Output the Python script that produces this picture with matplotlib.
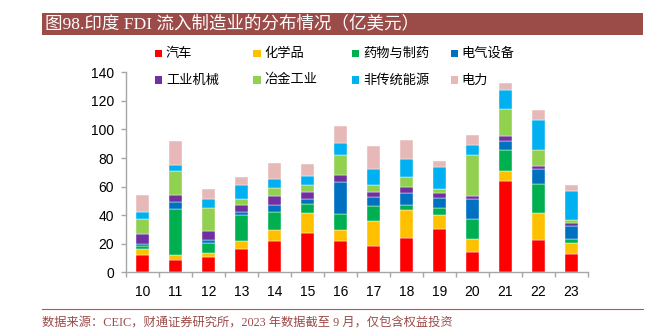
import numpy as np
import matplotlib.pyplot as plt
from matplotlib.patches import Rectangle

plt.rcParams['font.family'] = ['Liberation Sans', 'Noto Sans CJK SC']

years = ['10', '11', '12', '13', '14', '15', '16', '17', '18', '19', '20', '21', '22', '23']

# 亿美元
auto      = [12.0, 8.4, 11.0, 16.6, 21.9, 27.5, 21.7, 18.7, 24.3, 30.3, 14.5, 64.2, 22.9, 12.6]
chemicals = [4.2, 3.7, 2.8, 5.6, 8.0, 14.0, 8.2, 17.2, 19.6, 10.1, 9.1, 7.0, 18.6, 7.7]
pharma    = [2.4, 32.5, 6.5, 18.2, 12.1, 6.3, 11.2, 10.8, 3.5, 4.9, 13.7, 14.4, 20.3, 3.3]
electric  = [1.1, 4.9, 2.1, 1.8, 4.9, 3.5, 22.1, 6.0, 8.4, 6.5, 14.3, 6.1, 10.3, 8.6]
machinery = [7.3, 4.6, 6.3, 4.7, 6.8, 5.2, 4.7, 3.8, 4.2, 4.0, 1.8, 3.7, 2.1, 2.1]
metallurgy = [10.5, 16.8, 16.1, 4.7, 5.6, 4.4, 14.0, 4.4, 6.5, 2.8, 28.5, 18.7, 11.7, 2.1]
renewables = [4.9, 4.0, 6.3, 9.3, 6.0, 6.8, 8.6, 11.7, 13.1, 15.1, 7.2, 13.5, 20.5, 20.8]
power     = [11.9, 17.3, 7.5, 5.6, 11.0, 7.9, 11.9, 15.6, 12.8, 4.5, 7.0, 4.9, 7.2, 4.2]

series = [
    ('汽车', auto, '#FF0000'),
    ('化学品', chemicals, '#FFC000'),
    ('药物与制药', pharma, '#00B050'),
    ('电气设备', electric, '#0070C0'),
    ('工业机械', machinery, '#7030A0'),
    ('冶金工业', metallurgy, '#92D050'),
    ('非传统能源', renewables, '#00B0F0'),
    ('电力', power, '#E6B9B8'),
]

W, H = 663, 336
fig = plt.figure(figsize=(W / 100, H / 100), dpi=100)

# title banner
fig.patches.append(Rectangle((42 / W, 1 - 34.5 / H), 601 / W, 21.5 / H,
                             transform=fig.transFigure, facecolor='#9B4B48',
                             edgecolor='none'))
fig.text(45 / W, 1 - 24 / H, '图98.印度 FDI 流入制造业的分布情况（亿美元）',
         color='white', fontsize=12.6, va='center', ha='left',
         family=['Liberation Serif', 'Noto Sans CJK SC'])

ax = fig.add_axes([125.7 / W, 63.7 / H, 462.3 / W, 200 / H])
x = np.arange(len(years))
bottom = np.zeros(len(years))
for name, vals, color in series:
    ax.bar(x, vals, width=0.4, bottom=bottom, color=color,
           edgecolor='white', linewidth=0.3)
    bottom += np.array(vals)

ax.set_xlim(-0.5, len(years) - 0.5)
ax.set_ylim(0, 140)
ax.set_yticks(range(0, 141, 20))
ax.set_xticks(x)
ax.set_xticklabels(years, fontsize=10)
ax.set_xticks(np.arange(-0.5, len(years), 1), minor=True)
ax.tick_params(axis='x', which='major', length=0, pad=9)
ax.tick_params(axis='x', which='minor', length=3.5, color='#A6A6A6', width=1)
ax.tick_params(axis='y', length=3.5, color='#A6A6A6', width=1, labelsize=10, pad=5)
for side in ['top', 'right']:
    ax.spines[side].set_visible(False)
for side in ['left', 'bottom']:
    ax.spines[side].set_color('#A6A6A6')
    ax.spines[side].set_linewidth(1)

# legend laid out as a 4 x 2 grid
for i, (name, vals, color) in enumerate(series):
    col, row = i % 4, i // 4
    lx = 155 + 98.5 * col
    ly = 53.5 + 26.5 * row
    fig.patches.append(Rectangle((lx / W, 1 - (ly + 3.5) / H), 7 / W, 7 / H,
                                 transform=fig.transFigure, facecolor=color,
                                 edgecolor='none'))
    fig.text((lx + 11) / W, 1 - ly / H, name, fontsize=9.5, va='center',
             ha='left', family=['Noto Sans CJK SC'])

# source note
fig.add_artist(plt.Line2D([42 / W, 643 / W], [1 - 309 / H, 1 - 309 / H],
                          color='#C0504D', linewidth=0.8,
                          transform=fig.transFigure))
fig.text(42 / W, 1 - 324 / H,
         '数据来源：CEIC，财通证券研究所，2023 年数据截至 9 月，仅包含权益投资',
         color='#9B4B48', fontsize=8.8, va='center', ha='left',
         family=['Liberation Serif', 'Noto Sans CJK SC'])

fig.savefig('out.png', dpi=100)
